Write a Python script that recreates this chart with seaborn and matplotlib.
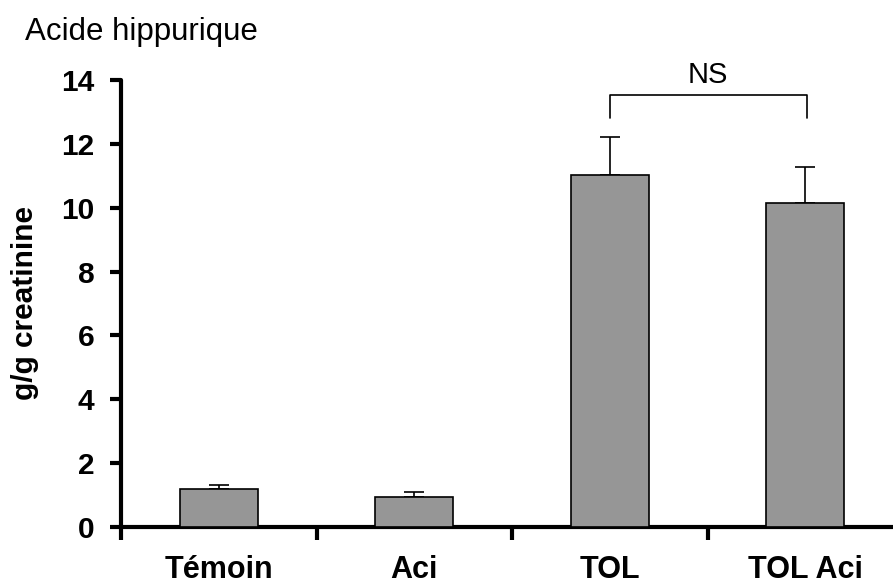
import numpy as np
import pandas as pd
import seaborn as sns
import matplotlib.pyplot as plt
from matplotlib.ticker import FixedLocator

# data
groups = ['Témoin', 'Aci', 'TOL', 'TOL Aci']
means = [1.2, 0.95, 11.03, 10.15]
errors = [0.13, 0.15, 1.17, 1.12]
y_ticks = [0, 2, 4, 6, 8, 10, 12, 14]

df = pd.DataFrame({'group': groups, 'value': means})

sns.set_theme(style='white')
plt.rcParams['font.family'] = ['Liberation Sans', 'DejaVu Sans']
plt.rcParams['text.color'] = 'black'
plt.rcParams['axes.labelcolor'] = 'black'
plt.rcParams['xtick.color'] = 'black'
plt.rcParams['ytick.color'] = 'black'

fig = plt.figure(figsize=(8.93, 5.88), dpi=100)
ax = fig.add_axes([121 / 893, 61 / 588, 782 / 893, 447 / 588])

sns.barplot(data=df, x='group', y='value', color='#969696', width=0.40,
            saturation=1, edgecolor='black', linewidth=1.2, ax=ax, zorder=3)

# upward error bars only
ax.errorbar(np.arange(len(groups)), means, yerr=[[0] * len(errors), errors],
            fmt='none', ecolor='black', elinewidth=1.2, capsize=7, capthick=1.2,
            zorder=2)

ax.set_xlim(-0.5, 3.5)
ax.set_ylim(0, 14)
ax.set_yticks(y_ticks)
ax.set_yticklabels([str(t) for t in y_ticks], fontsize=21.5, fontweight='bold')
ax.set_xticks(range(len(groups)))
ax.set_xticklabels(groups, fontsize=22, fontweight='bold')
ax.xaxis.set_minor_locator(FixedLocator([-0.5, 0.5, 1.5, 2.5, 3.5]))

ax.tick_params(axis='x', which='major', length=0, pad=20, labelcolor='black')
ax.tick_params(axis='x', which='minor', bottom=True, length=9, width=3,
               direction='out', color='black')
ax.tick_params(axis='y', which='major', left=True, length=8, width=3,
               direction='out', color='black', pad=11, labelcolor='black')

for side in ['top', 'right']:
    ax.spines[side].set_visible(False)
for side in ['left', 'bottom']:
    ax.spines[side].set_linewidth(3)
    ax.spines[side].set_color('black')
    ax.spines[side].set_capstyle('round')

ax.set_xlabel('')
ax.set_ylabel('g/g creatinine', fontsize=21.5, fontweight='bold', labelpad=16,
              color='black')

# significance bracket between TOL and TOL Aci
ax.plot([2, 2, 3.01, 3.01], [12.82, 13.52, 13.52, 12.82], color='black', lw=1.2,
        clip_on=False)
ax.text(2.5, 13.92, 'NS', ha='center', va='baseline', fontsize=21, color='black')

fig.text(25 / 893, 1 - 40 / 588, 'Acide hippurique', fontsize=22.5,
         ha='left', va='baseline', color='black')

fig.savefig('out.png', dpi=100)
